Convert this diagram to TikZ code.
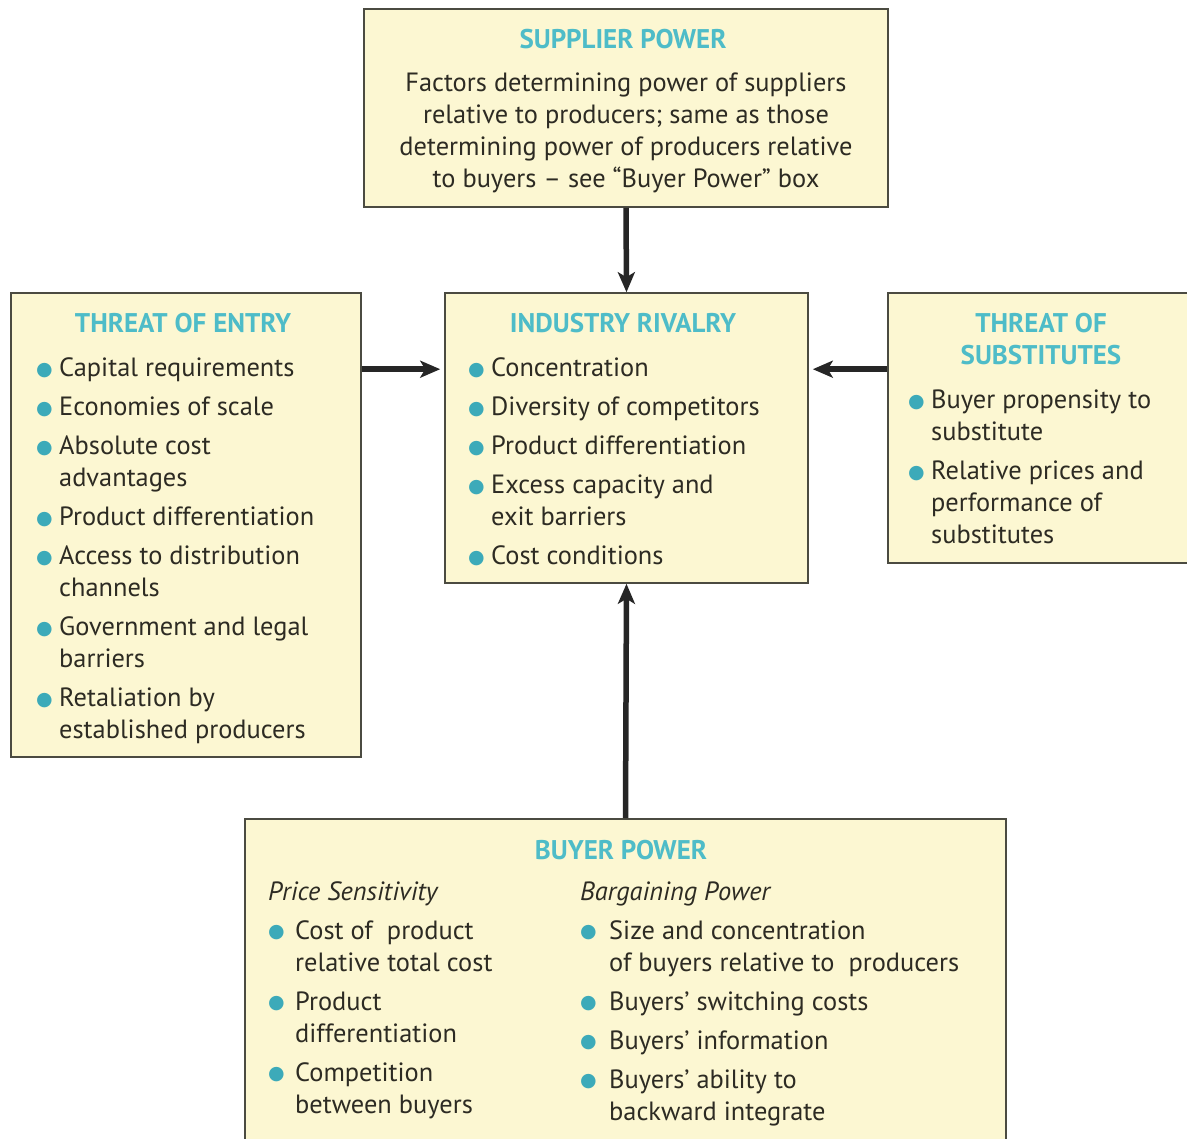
\documentclass[tikz,border=0pt]{standalone}
\usepackage{fontspec}
\setmainfont{PT Sans}
\newfontfamily\dejavu{DejaVu Sans}
\usetikzlibrary{arrows.meta,calc}
\definecolor{boxfill}{RGB}{252,247,210}
\definecolor{boxline}{RGB}{75,75,65}
\definecolor{ttl}{RGB}{78,188,200}
\definecolor{bulc}{RGB}{60,170,185}
\definecolor{txt}{RGB}{45,43,35}
\newlength\bind \setlength\bind{23pt}
\newlength\isep
\newcommand\bmark{\makebox[\bind][l]{\raisebox{1.5pt}{\textcolor{bulc}{\dejavu\fontsize{19}{19}\selectfont ●}}}}
\newcommand\itm[1]{\par\ifdim\isep>0pt \vskip\isep\fi\noindent\hangindent=\bind\hangafter=1\bmark#1\setlength\isep{7pt}}
\begin{document}
\begin{tikzpicture}[x=1pt,y=-1pt,
  box/.style={draw=boxline,line width=1.6pt,fill=boxfill,inner sep=0pt,rectangle},
  arr/.style={line width=5.5pt,draw=black!85,-{Stealth[length=20pt,width=17pt,inset=5pt]}},
  txtn/.style={inner sep=0pt,anchor=base west,text=txt,font=\fontsize{26.4}{32}\selectfont},
  ttln/.style={inner sep=0pt,anchor=base,text=ttl,font=\bfseries\fontsize{27}{32}\selectfont}]
\useasboundingbox[fill=white] (0,0) rectangle (1187,1139);
% boxes
\node[box,minimum width=524pt,minimum height=198pt] (sup) at (626,108) {};
\node[box,minimum width=363pt,minimum height=290pt] (ind) at (626.5,438) {};
\node[box,minimum width=350pt,minimum height=464pt] (ent) at (186,525) {};
\node[box,minimum width=302pt,minimum height=270pt] (sub) at (1039,428) {};
\node[box,minimum width=761pt,minimum height=326pt] (buy) at (625.5,982) {};
% arrows
\draw[arr] (sup.south) -- (ind.north);
\draw[arr] (buy.north) -- (ind.south);
\draw[arr] ($(ent.north east)+(0,77)$) -- ($(ind.north west)+(-4,77)$);
\draw[arr] ($(sub.north west)+(0,77)$) -- ($(ind.north east)+(4,77)$);
% titles
\node[ttln] (supT) at (623,49) {SUPPLIER POWER};
\node[ttln] (indT) at (623,333) {INDUSTRY RIVALRY};
\node[ttln] (entT) at (183,333) {THREAT OF ENTRY};
\node[ttln] (subT) at (1041,333) {\parbox[t]{290pt}{\centering THREAT OF\\SUBSTITUTES}};
\node[ttln] (buyT) at (621,859) {BUYER POWER};
% texts
\node[txtn,anchor=base] (supB) at (626,92) {\parbox[t]{520pt}{\centering Factors determining power of suppliers\\relative to producers; same as those\\determining power of producers relative\\to buyers – see “Buyer Power” box}};
\node[txtn] (entL) at (36,377) {\parbox[t]{320pt}{%
\itm{Capital requirements}%
\itm{Economies of scale}%
\itm{Absolute cost\newline advantages}%
\itm{Product differentiation}%
\itm{Access to distribution\newline channels}%
\itm{Government and legal\newline barriers}%
\itm{Retaliation by\newline established producers}}};
\node[txtn] (indL) at (468,377) {\parbox[t]{335pt}{%
\itm{Concentration}%
\itm{Diversity of competitors}%
\itm{Product differentiation}%
\itm{Excess capacity and\newline exit barriers}%
\itm{Cost conditions}}};
\node[txtn] (subL) at (908,409) {\parbox[t]{275pt}{%
\itm{Buyer propensity to\newline substitute}%
\itm{Relative prices and\newline performance of\newline substitutes}}};
\node[txtn] (buyL) at (268,900) {\parbox[t]{300pt}{\setlength\bind{27pt}\noindent\textit{Price Sensitivity}\setlength\isep{7pt}%
\itm{Cost of \ product\newline relative total cost}%
\itm{Product\newline differentiation}%
\itm{Competition\newline between buyers}}};
\node[txtn] (buyR) at (580,900) {\parbox[t]{410pt}{\setlength\bind{29pt}\noindent\textit{Bargaining Power}\setlength\isep{7pt}%
\itm{Size and concentration\newline of buyers relative to \ producers}%
\itm{Buyers’ switching costs}%
\itm{Buyers’ information}%
\itm{Buyers’ ability to\newline backward integrate}}};
\end{tikzpicture}
\end{document}
